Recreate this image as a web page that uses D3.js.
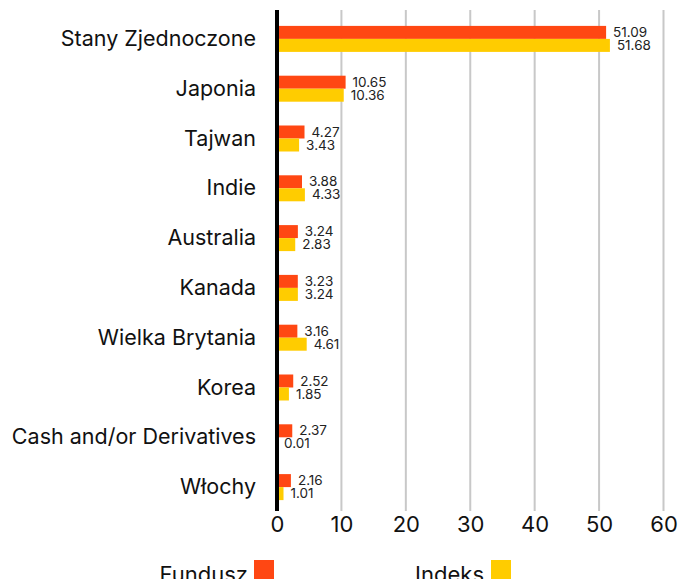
<!DOCTYPE html>
<html><head><meta charset="utf-8">
<script src="https://cdn.jsdelivr.net/npm/d3@7"></script>
<style>body{margin:0;background:#fff;}svg{display:block;font-family:Inter, "Noto Sans", sans-serif;}</style>
</head><body>
<svg id="c" width="678" height="579"></svg>
<script>
const categories = ["Stany Zjednoczone","Japonia","Tajwan","Indie","Australia","Kanada","Wielka Brytania","Korea","Cash and/or Derivatives","Włochy"];
const fundusz = [51.09,10.65,4.27,3.88,3.24,3.23,3.16,2.52,2.37,2.16];
const indeks = [51.68,10.36,3.43,4.33,2.83,3.24,4.61,1.85,0.01,1.01];
const seriesNames = ["Fundusz","Indeks"];
const colors = ["#FF4713","#FFCC00"];
const xTicks = [0,10,20,30,40,50,60];

const svg = d3.select("#c");
const x = d3.scaleLinear().domain([0,60]).range([277,663.5]);
const y = d3.scaleBand().domain(categories).range([14,512]).paddingInner(0).paddingOuter(0);
const barH = 13;

// grid
svg.append("g").selectAll("line").data(xTicks.slice(1)).join("line")
  .attr("x1",d=>x(d)).attr("x2",d=>x(d)).attr("y1",10).attr("y2",511)
  .attr("stroke","#c8c8c8").attr("stroke-width",2);

// bars
const series = [fundusz, indeks];
series.forEach((vals,si)=>{
  const g = svg.append("g");
  g.selectAll("rect").data(categories).join("rect")
    .attr("x",x(0)).attr("y",(d,i)=>y(d)+y.bandwidth()/2 - barH + si*barH)
    .attr("width",(d,i)=>x(vals[i])-x(0)).attr("height",barH)
    .attr("fill",colors[si]);
  g.selectAll("text").data(categories).join("text")
    .attr("x",(d,i)=>x(vals[i])+7)
    .attr("y",(d,i)=>y(d)+y.bandwidth()/2 - barH/2 + si*barH + 4.5)
    .attr("font-size",13.5).attr("fill","#222")
    .text((d,i)=>vals[i].toFixed(2));
});

// zero axis
svg.append("line").attr("x1",x(0)).attr("x2",x(0)).attr("y1",10).attr("y2",511)
  .attr("stroke","#000").attr("stroke-width",4);

// category labels
svg.append("g").selectAll("text").data(categories).join("text")
  .attr("x",256).attr("y",d=>y(d)+y.bandwidth()/2+7)
  .attr("text-anchor","end").attr("font-size",21.5).attr("fill","#111")
  .text(d=>d);

// x axis
const xAxis = d3.axisBottom(x).tickValues(xTicks).tickSize(0).tickPadding(0);
const ax = svg.append("g").attr("transform","translate(0,512)").call(xAxis);
ax.select(".domain").remove();
ax.selectAll("text").attr("font-size",22).attr("fill","#111").attr("dy","0").attr("y",20)
  .style("font-family","Inter, 'Noto Sans', sans-serif");

// legend
const leg = [{name:seriesNames[0],tx:248,sx:254},{name:seriesNames[1],tx:484,sx:491}];
leg.forEach((l,i)=>{
  svg.append("text").attr("x",l.tx).attr("y",582).attr("text-anchor","end")
    .attr("font-size",22).attr("fill","#111").text(l.name);
  svg.append("rect").attr("x",l.sx).attr("y",560).attr("width",20).attr("height",20).attr("fill",colors[i]);
});
</script>
</body></html>
